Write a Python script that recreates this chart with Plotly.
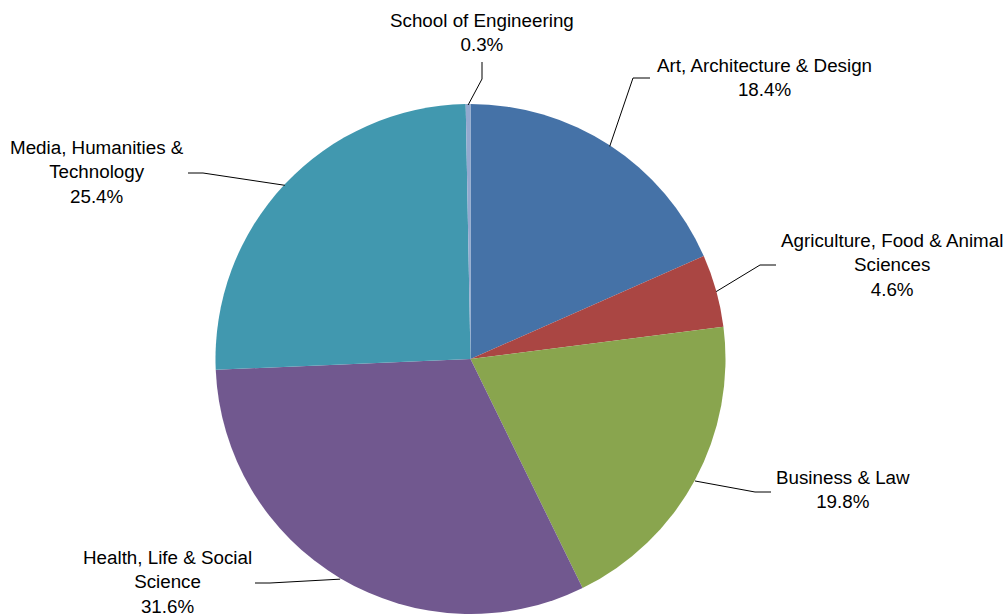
import math
import plotly.graph_objects as go

# ---- data ----
labels = [
    "Art, Architecture & Design",
    "Agriculture, Food & Animal<br>Sciences",
    "Business & Law",
    "Health, Life & Social<br>Science",
    "Media, Humanities &<br>Technology",
    "School of Engineering",
]
values = [18.4, 4.6, 19.8, 31.6, 25.4, 0.3]
colors = ["#4572A7", "#AA4643", "#89A54E", "#71588F", "#4198AF", "#93A9CF"]

# ---- layout (pixels) ----
W, H = 1007, 614
R = 255.0
CX = 470.5
CY = H - R + 1

# label block centres and leader elbows/ends (pixel positions, layout only)
label_pos = [(764, 77), (891.5, 265), (842.5, 489), (167.5, 582), (96.5, 172), (482, 32.5)]
elbows = [(633, 78), (760, 265), (755, 492), (270, 583), (203, 173), (482, 79)]
ends = [(650, 78), (776, 265), (771, 492), (255, 583), (188, 173), (482, 62)]


def px(x, y):
    return x / W, 1 - y / H


fig = go.Figure(
    go.Pie(
        labels=labels,
        values=values,
        marker=dict(colors=colors, line=dict(width=0)),
        sort=False,
        direction="clockwise",
        rotation=0,
        textinfo="none",
        hoverinfo="label+percent",
        domain=dict(x=[(CX - R) / W, (CX + R) / W], y=[0, 2 * R / H]),
        showlegend=False,
    )
)

total = sum(values)
cum = 0.0
annotations = []
shapes = []
for i, (lab, v) in enumerate(zip(labels, values)):
    mid = (cum + v / 2) / total * 2 * math.pi
    cum += v
    sx = CX + R * math.sin(mid)
    sy = CY - R * math.cos(mid)
    lx, ly = label_pos[i]
    ax, ay = px(lx, ly)
    annotations.append(
        dict(
            x=ax, y=ay, xref="paper", yref="paper",
            text=f"{lab}<br>{v:.1f}%",
            showarrow=False, xanchor="center", yanchor="middle",
            align="center",
            font=dict(family="Liberation Sans, Arial, sans-serif", size=18.8, color="#000000"),
        )
    )
    p0 = px(sx, sy)
    p1 = px(*elbows[i])
    p2 = px(*ends[i])
    shapes.append(
        dict(
            type="path", xref="paper", yref="paper",
            path=f"M {p0[0]} {p0[1]} L {p1[0]} {p1[1]} L {p2[0]} {p2[1]}",
            line=dict(color="#000000", width=1),
        )
    )

fig.update_layout(
    width=W, height=H,
    margin=dict(l=0, r=0, t=0, b=0),
    paper_bgcolor="#FFFFFF",
    plot_bgcolor="#FFFFFF",
    annotations=annotations,
    shapes=shapes,
)

fig.write_html("out.html")
